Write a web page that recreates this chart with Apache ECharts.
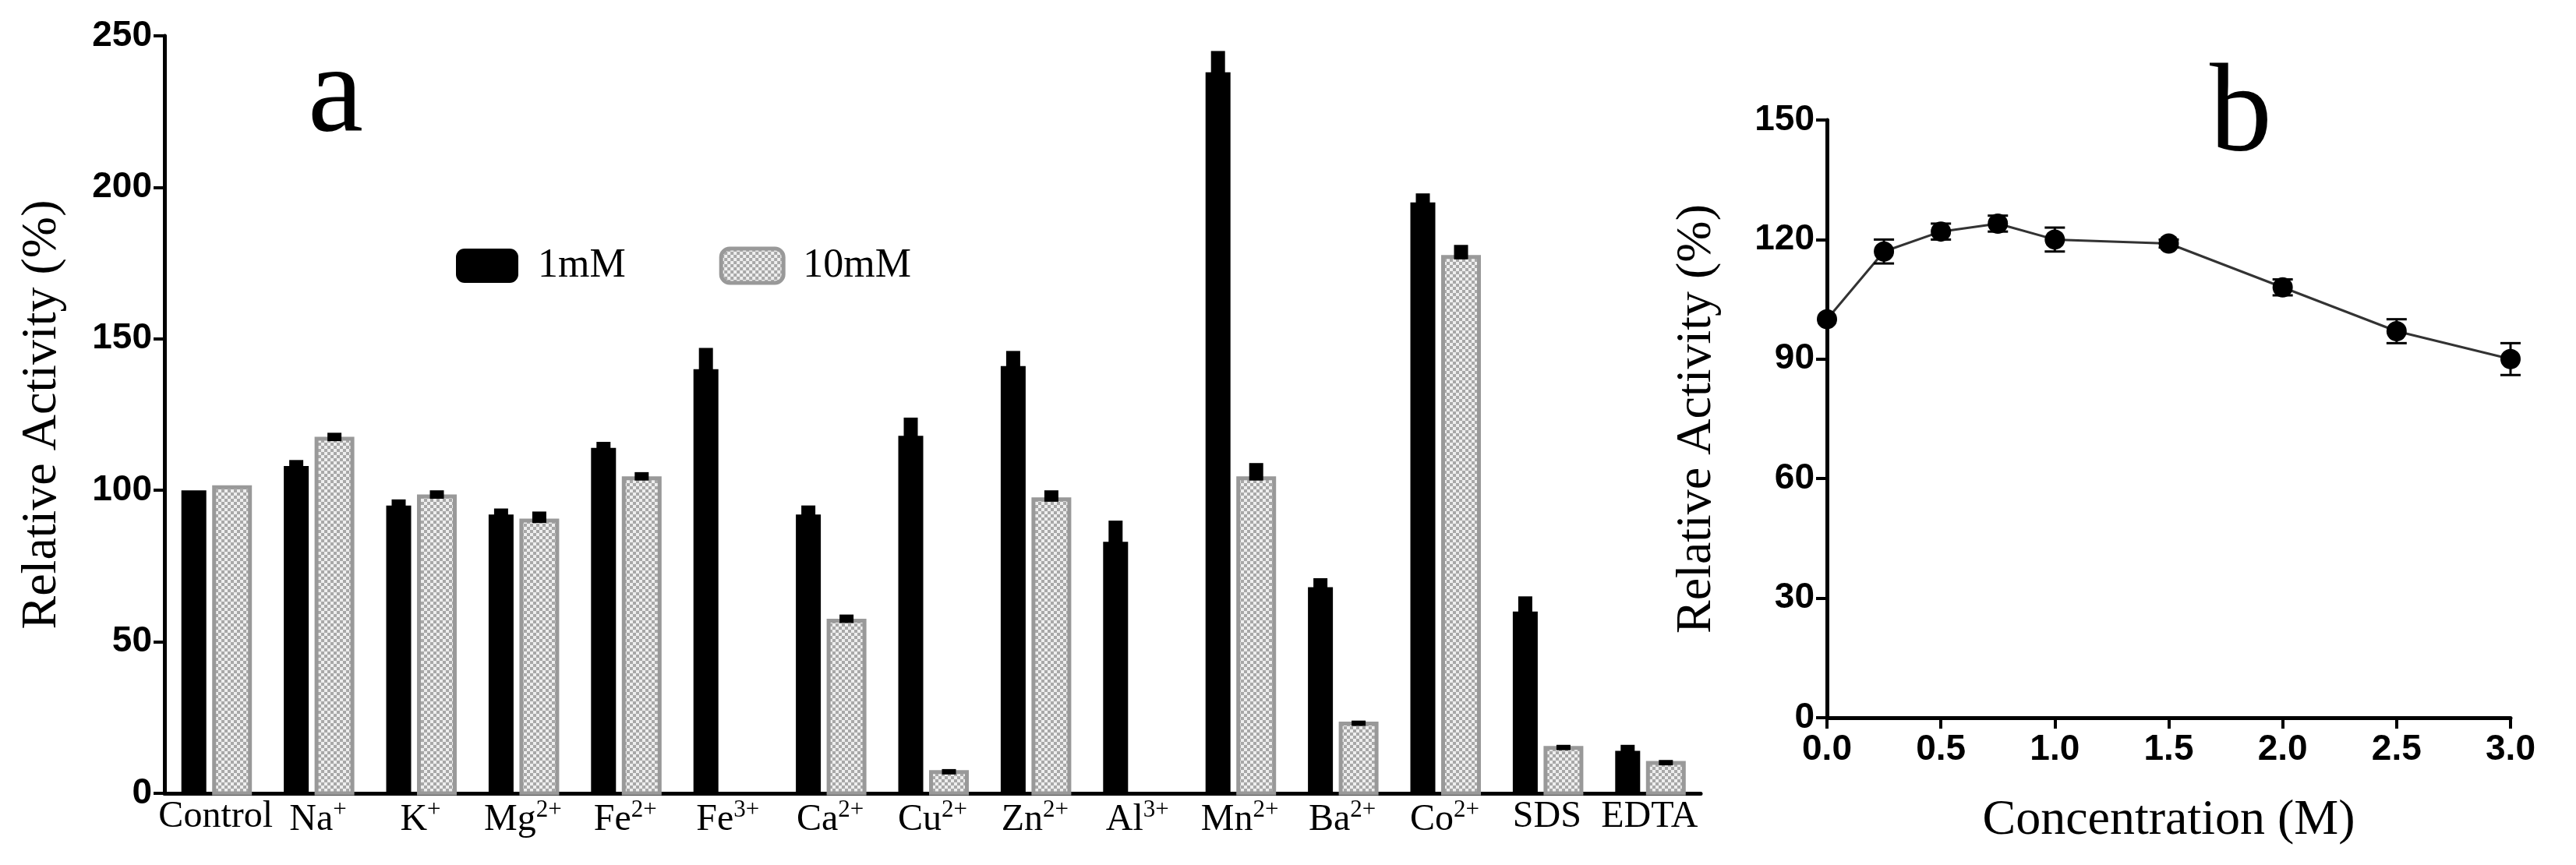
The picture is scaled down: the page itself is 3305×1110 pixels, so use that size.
<!DOCTYPE html>
<html>
<head>
<meta charset="utf-8">
<script src="https://cdn.jsdelivr.net/npm/echarts@6/dist/echarts.min.js"></script>
<style>html,body{margin:0;background:#fff}#c{width:3305px;height:1110px}</style>
</head>
<body>
<div id="c"></div>
<script>
// 数据
var ions = ['Control', 'Na|+', 'K|+', 'Mg|2+', 'Fe|2+', 'Fe|3+', 'Ca|2+', 'Cu|2+', 'Zn|2+', 'Al|3+', 'Mn|2+', 'Ba|2+', 'Co|2+', 'SDS', 'EDTA']
var mM1 = [100, 108, 95, 92, 114, 140, 92, 118, 141, 83, 238, 68, 195, 60, 14]
var mM1Err = [0, 2, 2, 2, 2, 7, 3, 6, 5, 7, 7, 3, 3, 5, 2]
var mM10 = [101, 117, 98, 90, 104, null, 57, 7, 97, null, 104, 23, 177, 15, 10]
var mM10Err = [0, 2, 2, 3, 2, 0, 2, 1, 3, 0, 5, 1, 4, 1, 1]
var conc = [0, 0.25, 0.5, 0.75, 1.0, 1.5, 2.0, 2.5, 3.0]
var activity = [100, 117, 122, 124, 120, 119, 108, 97, 90]
var activityErr = [0, 3, 2, 2, 3, 1, 2, 3, 4]

// 网格花纹
var pc = document.createElement('canvas')
pc.width = 8; pc.height = 8
var g = pc.getContext('2d')
g.fillStyle = '#eeeeee'; g.fillRect(0, 0, 8, 8)
g.fillStyle = '#a8a8a8'; g.fillRect(0, 0, 4, 4); g.fillRect(4, 4, 4, 4)
var pattern = { image: pc, repeat: 'repeat' }

var serif = 'Liberation Serif'
var sans = 'Liberation Sans'

function barSeries (name, values, errs, offset, width, style) {
  return {
    name: name,
    type: 'custom',
    xAxisIndex: 0,
    yAxisIndex: 0,
    itemStyle: style,
    data: values.map(function (v, i) { return [i, v, errs[i]] }),
    renderItem: function (params, api) {
      var v = api.value(1)
      if (v == null || isNaN(v)) return
      var base = api.coord([api.value(0), 0])
      var top = api.coord([api.value(0), v])
      var errTop = api.coord([api.value(0), v + api.value(2)])
      var cx = base[0] + offset
      var children = [{
        type: 'rect',
        shape: { x: cx - width / 2, y: top[1], width: width, height: base[1] - top[1] },
        style: style
      }]
      if (api.value(2) > 0) {
        children.push({
          type: 'rect',
          shape: { x: cx - 9, y: errTop[1], width: 18, height: top[1] - errTop[1] + 3 },
          style: { fill: '#000' }
        })
      }
      return { type: 'group', children: children }
    }
  }
}

var rich = {
  n: { fontFamily: serif, fontSize: 48, color: '#000' },
  s: { fontFamily: serif, fontSize: 31, color: '#000', verticalAlign: 'top', padding: [0, 0, 26, 0] }
}

var chart = echarts.init(document.getElementById('c'))
chart.setOption({
  animation: false,
  graphic: [
    { type: 'text', left: 395, top: 45, style: { text: 'a', font: '160px "Liberation Serif"', fill: '#000' } },
    { type: 'text', left: 2835, top: 70, style: { text: 'b', font: '160px "Liberation Serif"', fill: '#000' } }
  ],
  legend: {
    left: 580, top: 310, itemWidth: 80, itemHeight: 44, itemGap: 120,
    textStyle: { fontFamily: serif, fontSize: 52, color: '#000', padding: [0, 0, 0, 20] },
    data: [
      { name: '1mM', itemStyle: { color: '#000' } },
      { name: '10mM', itemStyle: { color: pattern, borderColor: '#999', borderWidth: 5 } }
    ]
  },
  grid: [
    { left: 211, right: 1123, top: 46, bottom: 92 },
    { left: 2344, right: 84, top: 154, bottom: 189 }
  ],
  xAxis: [{
    gridIndex: 0, type: 'category', data: ions,
    axisLine: { lineStyle: { color: '#000', width: 5 } },
    axisTick: { alignWithLabel: true, length: 14, lineStyle: { color: '#000', width: 4 } },
    axisLabel: {
      interval: 0, margin: 6, rich: rich,
      formatter: function (v) {
        var p = v.split('|')
        return p.length > 1 ? '{n|' + p[0] + '}{s|' + p[1] + '}' : '{n|' + p[0] + '}'
      }
    }
  }, {
    gridIndex: 1, type: 'value', min: 0, max: 3, interval: 0.5,
    name: 'Concentration (M)', nameLocation: 'middle', nameGap: 100,
    nameTextStyle: { fontFamily: serif, fontSize: 64, color: '#000' },
    splitLine: { show: false },
    axisLine: { lineStyle: { color: '#000', width: 5 } },
    axisTick: { length: 14, lineStyle: { color: '#000', width: 4 } },
    axisLabel: { fontFamily: sans, fontWeight: 'bold', fontSize: 46, color: '#000', margin: 18, formatter: function (v) { return v.toFixed(1) } }
  }],
  yAxis: [{
    gridIndex: 0, type: 'value', min: 0, max: 250, interval: 50,
    name: 'Relative Activity (%)', nameLocation: 'middle', nameGap: 125,
    nameTextStyle: { fontFamily: serif, fontSize: 64, color: '#000' },
    splitLine: { show: false },
    axisLine: { show: true, lineStyle: { color: '#000', width: 5 } },
    axisTick: { show: true, length: 14, lineStyle: { color: '#000', width: 4 } },
    axisLabel: { fontFamily: sans, fontWeight: 'bold', fontSize: 46, color: '#000', margin: 16 }
  }, {
    gridIndex: 1, type: 'value', min: 0, max: 150, interval: 30,
    name: 'Relative Activity (%)', nameLocation: 'middle', nameGap: 135,
    nameTextStyle: { fontFamily: serif, fontSize: 64, color: '#000' },
    splitLine: { show: false },
    axisLine: { show: true, lineStyle: { color: '#000', width: 5 } },
    axisTick: { show: true, length: 14, lineStyle: { color: '#000', width: 4 } },
    axisLabel: { fontFamily: sans, fontWeight: 'bold', fontSize: 46, color: '#000', margin: 16 }
  }],
  series: [
    barSeries('1mM', mM1, mM1Err, -28, 32, { fill: '#000' }),
    barSeries('10mM', mM10, mM10Err, 21, 46, { fill: pattern, stroke: '#999', lineWidth: 5 }),
    {
      type: 'line', xAxisIndex: 1, yAxisIndex: 1,
      data: conc.map(function (c, i) { return [c, activity[i]] }),
      symbol: 'circle', symbolSize: 26,
      lineStyle: { color: '#333', width: 3 },
      itemStyle: { color: '#000' },
      z: 3
    },
    {
      type: 'custom', xAxisIndex: 1, yAxisIndex: 1,
      data: conc.map(function (c, i) { return [c, activity[i], activityErr[i]] }),
      renderItem: function (params, api) {
        var e = api.value(2)
        if (!e) return
        var hi = api.coord([api.value(0), api.value(1) + e])
        var lo = api.coord([api.value(0), api.value(1) - e])
        var s = { stroke: '#000', lineWidth: 3 }
        return {
          type: 'group',
          children: [
            { type: 'line', shape: { x1: hi[0], y1: hi[1], x2: lo[0], y2: lo[1] }, style: s },
            { type: 'line', shape: { x1: hi[0] - 13, y1: hi[1], x2: hi[0] + 13, y2: hi[1] }, style: s },
            { type: 'line', shape: { x1: lo[0] - 13, y1: lo[1], x2: lo[0] + 13, y2: lo[1] }, style: s }
          ]
        }
      },
      z: 4
    }
  ]
})
</script>
</body>
</html>
